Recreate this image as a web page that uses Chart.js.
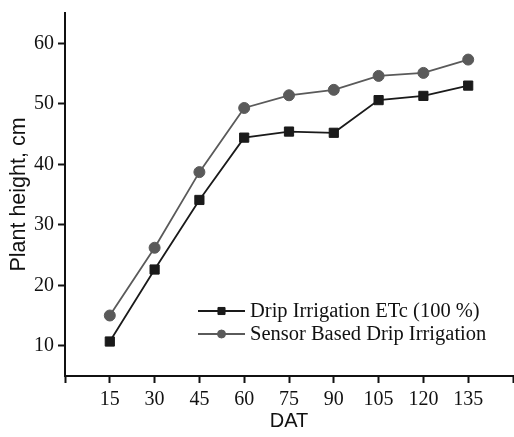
<!DOCTYPE html>
<html>
<head>
<meta charset="utf-8">
<script src="https://cdn.jsdelivr.net/npm/chart.js@4/dist/chart.umd.min.js"></script>
<style>
  html, body { margin: 0; padding: 0; background: #fff; }
  #wrap { width: 514px; height: 437px; }
</style>
</head>
<body>
<div id="wrap"><canvas id="chart-canvas" width="514" height="437"></canvas></div>
<script>
// days after transplanting
let dat = [15, 30, 45, 60, 75, 90, 105, 120, 135];
let drip = [10.7, 22.6, 34.1, 44.4, 45.4, 45.2, 50.6, 51.3, 53.0];
let sensor = [15.0, 26.2, 38.7, 49.3, 51.4, 52.3, 54.6, 55.1, 57.3];

let xTicks = [0, 15, 30, 45, 60, 75, 90, 105, 120, 135, 150];
let yTicks = [10, 20, 30, 40, 50, 60];

let seriesNames = ["Drip Irrigation ETc (100 %)", "Sensor Based Drip Irrigation"];

function toPoints(ys) {
  let pts = [];
  for (let i = 0; i < dat.length; i++) {
    pts.push({ x: dat[i], y: ys[i] });
  }
  return pts;
}

// legend sits inside the plot, lower right
const insideLegend = {
  id: "insideLegend",
  afterDraw(chart) {
    let ctx = chart.ctx;
    let rows = [311, 334];
    ctx.save();
    chart.data.datasets.forEach((ds, i) => {
      let y = rows[i];
      ctx.strokeStyle = ds.borderColor;
      ctx.lineWidth = ds.borderWidth;
      ctx.beginPath();
      ctx.moveTo(198, y);
      ctx.lineTo(245, y);
      ctx.stroke();
      ctx.fillStyle = ds.pointBackgroundColor;
      ctx.strokeStyle = ds.pointBorderColor;
      ctx.lineWidth = 1;
      Chart.helpers.drawPoint(ctx, { pointStyle: ds.pointStyle, radius: ds.pointRadius - 1.5, borderWidth: 1, rotation: 0 }, 221.5, y);
      ctx.fillStyle = "#111";
      ctx.font = "20.5px 'Liberation Serif', 'Times New Roman', serif";
      ctx.textAlign = "left";
      ctx.textBaseline = "middle";
      ctx.fillText(ds.label, 250, y + 1);
    });
    ctx.restore();
  },
};

function createChart() {
  let serif = { family: "'Liberation Serif', 'Times New Roman', serif", size: 20 };

  new Chart(document.getElementById("chart-canvas"), {
    type: "line",
    data: {
      datasets: [
        {
          label: seriesNames[0],
          data: toPoints(drip),
          borderColor: "#1a1a1a",
          borderWidth: 1.8,
          pointStyle: "rect",
          pointRadius: 6.5,
          pointBackgroundColor: "#1a1a1a",
          pointBorderColor: "#1a1a1a",
          pointBorderWidth: 1,
          tension: 0,
        },
        {
          label: seriesNames[1],
          data: toPoints(sensor),
          borderColor: "#5a5a5a",
          borderWidth: 1.8,
          pointStyle: "circle",
          pointRadius: 5.5,
          pointBackgroundColor: "#5a5a5a",
          pointBorderColor: "#5a5a5a",
          pointBorderWidth: 1,
          tension: 0,
        },
      ],
    },
    options: {
      responsive: false,
      animation: false,
      layout: { autoPadding: false, padding: { top: 13, right: 1, left: 0, bottom: 0 } },
      plugins: {
        legend: { display: false },
        tooltip: { enabled: false },
      },
      scales: {
        x: {
          type: "linear",
          min: 0,
          max: 150,
          afterBuildTicks: (s) => { s.ticks = xTicks.map((v) => ({ value: v })); },
          afterFit: (s) => {
            s.height = 61;
            s.paddingLeft = 0;
            s.paddingRight = 0;
          },
          ticks: {
            color: "#111",
            font: serif,
            padding: 5,
            maxRotation: 0,
            autoSkip: false,
            callback: (v) => (v == 0 || v == 150 ? "" : v),
          },
          grid: {
            drawOnChartArea: false,
            drawTicks: true,
            tickLength: 7,
            tickWidth: 2,
            tickColor: "#111",
          },
          border: { color: "#111", width: 2 },
          title: {
            display: true,
            text: "DAT",
            color: "#111",
            font: { family: "'Liberation Sans', Arial, sans-serif", size: 20, weight: "500" },
            padding: { top: 0, bottom: 4 },
          },
        },
        y: {
          type: "linear",
          min: 5,
          max: 65,
          afterBuildTicks: (s) => { s.ticks = yTicks.map((v) => ({ value: v })); },
          afterFit: (s) => {
            s.width = 65;
            s.paddingTop = 0;
            s.paddingBottom = 0;
          },
          ticks: {
            color: "#111",
            font: serif,
            padding: 4,
          },
          grid: {
            drawOnChartArea: false,
            drawTicks: true,
            tickLength: 7,
            tickWidth: 2,
            tickColor: "#111",
          },
          border: { color: "#111", width: 2 },
          title: {
            display: true,
            text: "Plant height, cm",
            color: "#111",
            font: { family: "'Liberation Sans', Arial, sans-serif", size: 21.5, weight: "500" },
            padding: { top: 6, bottom: 0 },
          },
        },
      },
    },
    plugins: [insideLegend],
  });
}

createChart();
</script>
</body>
</html>
